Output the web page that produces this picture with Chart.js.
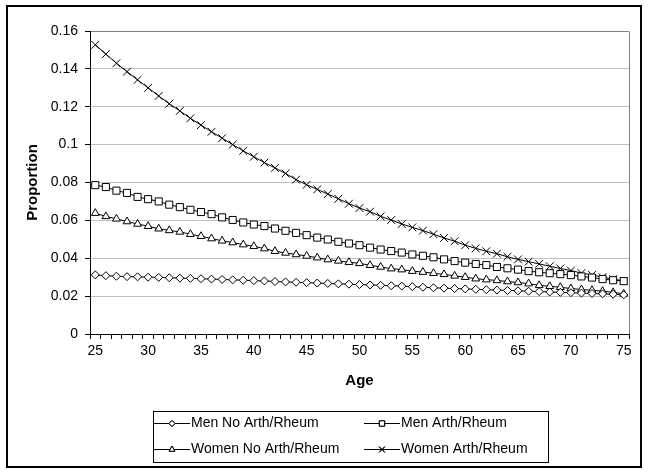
<!DOCTYPE html>
<html>
<head>
<meta charset="utf-8">
<title>Proportion by Age</title>
<script src="https://cdn.jsdelivr.net/npm/chart.js"></script>
<style>
  html, body { margin: 0; padding: 0; background: #fff; }
  #wrap { width: 648px; height: 475px; }
</style>
</head>
<body>
<div id="wrap"><canvas id="chart" width="648" height="475"></canvas></div>
<script>
// ages 25..75, one point per year
const ages = [25, 26, 27, 28, 29, 30, 31, 32, 33, 34, 35, 36, 37, 38, 39, 40, 41, 42, 43, 44, 45, 46, 47, 48, 49, 50,
    51, 52, 53, 54, 55, 56, 57, 58, 59, 60, 61, 62, 63, 64, 65, 66, 67, 68, 69, 70, 71, 72, 73, 74, 75];

const menNoArth = [0.0312, 0.0308, 0.0305, 0.0303, 0.0302, 0.0300, 0.0299, 0.0297, 0.0295, 0.0294, 0.0292, 0.0290, 0.0288,
    0.0286, 0.0284, 0.0282, 0.0280, 0.0277, 0.0275, 0.0273, 0.0271, 0.0269, 0.0267, 0.0265, 0.0263, 0.0261,
    0.0259, 0.0257, 0.0255, 0.0253, 0.0250, 0.0247, 0.0244, 0.0242, 0.0240, 0.0238, 0.0236, 0.0234, 0.0232,
    0.0230, 0.0228, 0.0226, 0.0224, 0.0222, 0.0220, 0.0218, 0.0216, 0.0214, 0.0212, 0.0210, 0.0207];

const menArth = [0.0786, 0.0776, 0.0757, 0.0745, 0.0724, 0.0712, 0.0700, 0.0683, 0.0670, 0.0656, 0.0644, 0.0633, 0.0616,
    0.0602, 0.0589, 0.0578, 0.0570, 0.0557, 0.0545, 0.0534, 0.0522, 0.0509, 0.0499, 0.0487, 0.0478, 0.0469,
    0.0456, 0.0446, 0.0438, 0.0430, 0.0420, 0.0413, 0.0405, 0.0394, 0.0385, 0.0377, 0.0370, 0.0364, 0.0354,
    0.0347, 0.0340, 0.0332, 0.0326, 0.0321, 0.0316, 0.0311, 0.0304, 0.0298, 0.0290, 0.0284, 0.0279];

const womenNoArth = [0.0638, 0.0621, 0.0608, 0.0594, 0.0581, 0.0569, 0.0556, 0.0547, 0.0539, 0.0527, 0.0516, 0.0504, 0.0492,
    0.0483, 0.0472, 0.0463, 0.0451, 0.0437, 0.0428, 0.0420, 0.0412, 0.0403, 0.0393, 0.0386, 0.0379, 0.0373,
    0.0363, 0.0354, 0.0345, 0.0340, 0.0332, 0.0327, 0.0321, 0.0315, 0.0307, 0.0300, 0.0292, 0.0287, 0.0283,
    0.0277, 0.0272, 0.0266, 0.0257, 0.0252, 0.0247, 0.0240, 0.0235, 0.0231, 0.0226, 0.0220, 0.0212];

const womenArth = [0.1527, 0.1478, 0.1430, 0.1385, 0.1342, 0.1300, 0.1257, 0.1216, 0.1178, 0.1139, 0.1103, 0.1068, 0.1034,
    0.1000, 0.0967, 0.0936, 0.0905, 0.0877, 0.0848, 0.0815, 0.0788, 0.0764, 0.0739, 0.0714, 0.0688, 0.0665,
    0.0646, 0.0621, 0.0602, 0.0581, 0.0563, 0.0546, 0.0527, 0.0507, 0.0490, 0.0469, 0.0452, 0.0437, 0.0424,
    0.0408, 0.0394, 0.0382, 0.0370, 0.0358, 0.0346, 0.0335, 0.0322, 0.0312, 0.0300, 0.0290, 0.0280];

const seriesNames = ['Men No Arth/Rheum', 'Men Arth/Rheum', 'Women No Arth/Rheum', 'Women Arth/Rheum'];
const yTickLabels = ['0', '0.02', '0.04', '0.06', '0.08', '0.1', '0.12', '0.14', '0.16'];

const FONT = '"Liberation Sans", Arial, sans-serif';

function series(label, data, style, radius) {
    return {
        label,
        data,
        borderColor: '#000',
        borderWidth: 1,
        pointStyle: style,
        pointRadius: radius,
        pointBackgroundColor: '#fff',
        pointBorderColor: '#000',
        pointBorderWidth: 1,
        tension: 0
    };
}

// outer frame + plot border on top/right
const framePlugin = {
    id: 'frame',
    beforeDraw(chart) {
        const ctx = chart.ctx;
        ctx.save();
        ctx.fillStyle = '#fff';
        ctx.fillRect(0, 0, chart.width, chart.height);
        ctx.restore();
    },
    beforeDatasetsDraw(chart) {
        const { ctx, chartArea: a } = chart;
        ctx.save();
        ctx.strokeStyle = '#808080';
        ctx.lineWidth = 1;
        ctx.beginPath();
        ctx.moveTo(Math.round(a.right) + 0.5, Math.round(a.top) + 0.5);
        ctx.lineTo(Math.round(a.right) + 0.5, Math.round(a.bottom));
        ctx.stroke();
        ctx.restore();
    },
    afterDraw(chart) {
        const ctx = chart.ctx;
        ctx.save();
        ctx.strokeStyle = '#000';
        ctx.lineWidth = 2;
        ctx.strokeRect(7, 6, 634, 461);
        ctx.restore();
    }
};

// Excel-style legend box: line + marker + label, 2 columns
const legendPlugin = {
    id: 'boxLegend',
    afterDraw(chart) {
        const ctx = chart.ctx;
        const box = { x: 153.5, y: 411.5, w: 395, h: 51 };
        const cols = [154, 364];
        const rows = [423.5, 449.5];
        ctx.save();
        ctx.strokeStyle = '#000';
        ctx.lineWidth = 1;
        ctx.strokeRect(box.x, box.y, box.w, box.h);
        ctx.font = '14px ' + FONT;
        ctx.textBaseline = 'middle';
        ctx.fillStyle = '#000';
        chart.data.datasets.forEach((ds, i) => {
            const x = cols[i % 2];
            const y = rows[Math.floor(i / 2)];
            ctx.beginPath();
            ctx.moveTo(x, y);
            ctx.lineTo(x + 36, y);
            ctx.stroke();
            Chart.helpers.drawPoint(ctx, {
                pointStyle: ds.pointStyle,
                radius: ds.pointRadius * 0.75,
                rotation: 0,
                borderWidth: 1
            }, x + 18, y);
            ctx.fillStyle = '#fff';
            if (ds.pointStyle !== 'crossRot') ctx.fill();
            ctx.stroke();
            ctx.fillStyle = '#000';
            ctx.fillText(ds.label, x + 37, y);
        });
        ctx.restore();
    }
};

new Chart(document.getElementById('chart'), {
    type: 'line',
    data: {
        labels: ages,
        datasets: [
            series(seriesNames[0], menNoArth, 'rectRot', 4),
            series(seriesNames[1], menArth, 'rect', 5),
            series(seriesNames[2], womenNoArth, 'triangle', 4.5),
            series(seriesNames[3], womenArth, 'crossRot', 5.5)
        ]
    },
    options: {
        responsive: false,
        animation: false,
        events: [],
        layout: { padding: { left: 0, top: 31, right: 19, bottom: 81 } },
        plugins: {
            legend: { display: false },
            tooltip: { enabled: false }
        },
        scales: {
            x: {
                type: 'category',
                offset: true,
                afterFit(scale) { scale.height = 60; },
                grid: {
                    display: true,
                    drawOnChartArea: false,
                    drawTicks: true,
                    tickLength: 5,
                    offset: true,
                    tickColor: '#000'
                },
                border: { display: true, color: '#000', width: 1 },
                ticks: {
                    autoSkip: false,
                    maxRotation: 0,
                    minRotation: 0,
                    padding: 4,
                    color: '#000',
                    font: { family: FONT, size: 14 },
                    callback(value, index) {
                        const age = ages[index];
                        return age % 5 === 0 ? String(age) : '';
                    }
                },
                title: {
                    display: true,
                    text: 'Age',
                    color: '#000',
                    font: { family: FONT, size: 15, weight: 'bold' },
                    padding: { top: 0, bottom: 4 }
                }
            },
            y: {
                min: 0,
                max: 0.16,
                afterFit(scale) { scale.width = 90; },
                grid: {
                    color(c) { return c.index === yTickLabels.length - 1 ? '#808080' : '#c0c0c0'; },
                    tickColor: '#000',
                    tickLength: 5
                },
                border: { display: true, color: '#000', width: 1 },
                ticks: {
                    stepSize: 0.02,
                    padding: 7,
                    color: '#000',
                    font: { family: FONT, size: 14 },
                    callback(value, index) { return yTickLabels[index]; }
                },
                title: {
                    display: true,
                    text: 'Proportion',
                    color: '#000',
                    font: { family: FONT, size: 15, weight: 'bold' },
                    padding: { top: 24, bottom: 0 }
                }
            }
        }
    },
    plugins: [framePlugin, legendPlugin]
});
</script>
</body>
</html>
